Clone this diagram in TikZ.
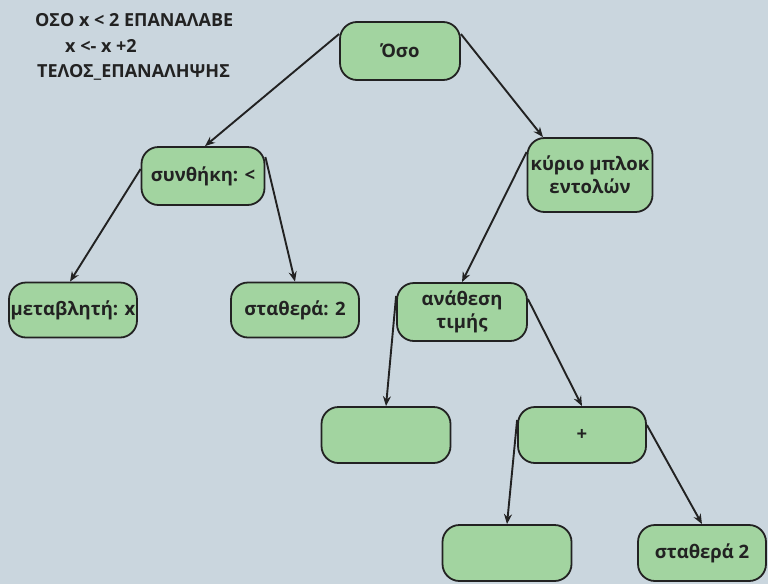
\documentclass[tikz,border=0pt]{standalone}
\usepackage{fontspec}
\setmainfont{Open Sans}
\usetikzlibrary{arrows.meta}
\definecolor{bg}{RGB}{202,214,222}
\definecolor{boxfill}{RGB}{162,212,160}
\definecolor{ink}{RGB}{34,34,34}
\begin{document}
\begin{tikzpicture}[x=1pt,y=-1pt,
  tnode/.style={draw=ink,line width=1.8pt,fill=boxfill,rounded corners=17pt,
    minimum width=#1,minimum height=57pt,inner sep=1pt,align=center,
    font=\fontsize{18.5}{23}\selectfont\bfseries,text=ink},
  tnode/.default=128pt,
  codeline/.style={anchor=west,inner sep=0pt,font=\fontsize{18}{20}\selectfont\bfseries,text=ink},
  arr/.style={draw=ink,line width=1.9pt,-{Stealth[length=10pt,width=8pt]}}]
\fill[bg] (0,0) rectangle (768,584);
\useasboundingbox (0,0) rectangle (768,584);
\node[codeline] (c1) at (35,20) {ΟΣΟ x < 2 ΕΠΑΝΑΛΑΒΕ};
\node[codeline] (c2) at (65,46) {x <- x +2};
\node[codeline] (c3) at (37,72) {ΤΕΛΟΣ\_ΕΠΑΝΑΛΗΨΗΣ};

\node[tnode=120pt,minimum height=58pt] (oso) at (400,51) {Όσο};
\node[tnode=123pt,minimum height=58pt] (cond) at (203,176) {συνθήκη: <};
\node[tnode=125pt,minimum height=74pt] (body) at (590,175) {κύριο μπλοκ\\εντολών};
\node[tnode=128pt,minimum height=55pt] (var) at (73,310) {μεταβλητή: x};
\node[tnode=128pt,minimum height=55pt] (const) at (295,310) {σταθερά: 2};
\node[tnode=130pt,minimum height=58pt] (assign) at (462,312) {ανάθεση\\τιμής};
\node[tnode=129pt,minimum height=56pt] (empty1) at (386,435) {};
\node[tnode=128pt,minimum height=56pt] (plus) at (582,435) {+};
\node[tnode=129pt,minimum height=56pt] (empty2) at (507,553) {};
\node[tnode=128pt,minimum height=56pt] (const2) at (702,553) {σταθερά 2};

\draw[arr] ([yshift=17pt]oso.west) -- ([xshift=2pt]cond.north);
\draw[arr] ([yshift=17pt]oso.east) -- ([xshift=-47pt]body.north);
\draw[arr] ([yshift=7pt]cond.west) -- ([xshift=-3pt]var.north);
\draw[arr] ([yshift=19pt]cond.east) -- (const.north);
\draw[arr] ([yshift=23pt]body.west) -- (assign.north);
\draw[arr] ([yshift=16pt]assign.west) -- (empty1.north);
\draw[arr] ([yshift=13pt]assign.east) -- (plus.north);
\draw[arr] ([yshift=15pt]plus.west) -- (empty2.north);
\draw[arr] ([yshift=10pt]plus.east) -- (const2.north);
\end{tikzpicture}
\end{document}
